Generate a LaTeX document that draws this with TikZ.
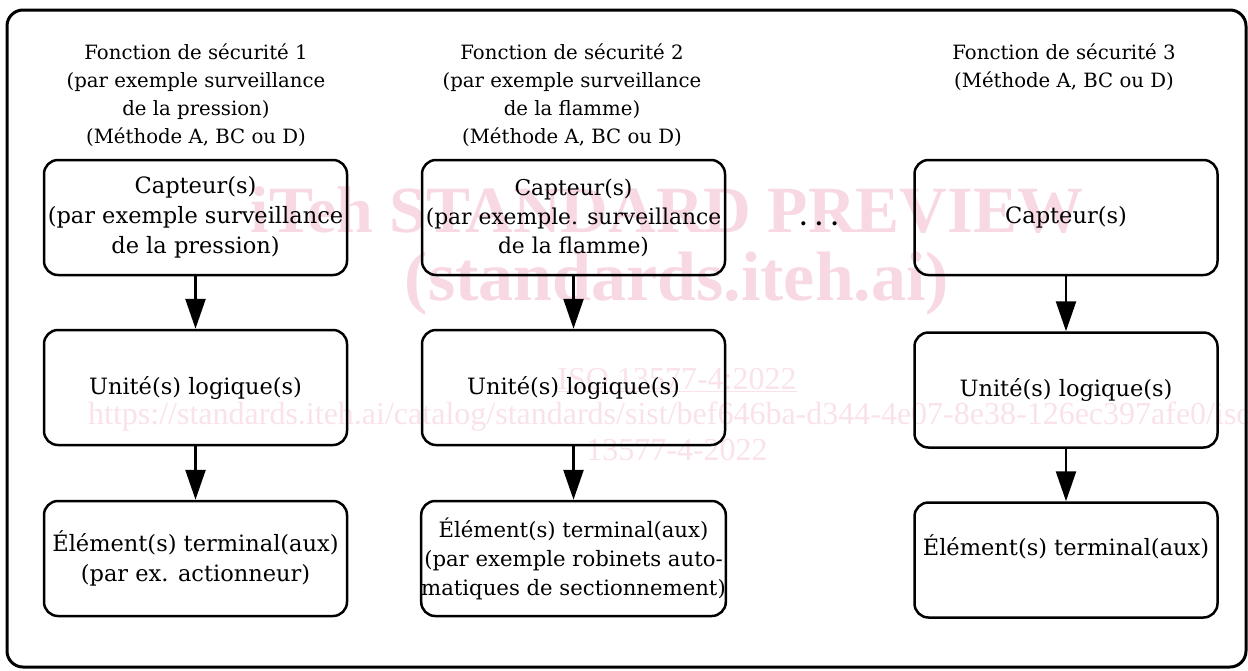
\documentclass[tikz,border=0pt]{standalone}
\usepackage{fontspec}
\setmainfont{DejaVu Serif}
\newfontfamily\wmfont{Liberation Serif}
\usetikzlibrary{arrows.meta}
\definecolor{wmpink}{RGB}{247,216,227}
\definecolor{wmlight}{RGB}{250,226,234}
\begin{document}
\begin{tikzpicture}[x=1pt,y=-1pt,
  box/.style={draw, line width=2.5pt, rounded corners=14pt, minimum width=303pt, minimum height=115pt, inner sep=0pt, align=center, font=\fontsize{22.5}{30}\selectfont},
  tight/.style={font=\fontsize{21.8}{29}\selectfont},
  tighter/.style={font=\fontsize{21.2}{29}\selectfont},
  head/.style={align=center, font=\fontsize{19.7}{28}\selectfont, inner sep=0pt},
  flow/.style={line width=2.5pt, -{Triangle[width=20pt,length=30pt]}},
  wmbig/.style={inner sep=0pt, text=wmpink, font=\wmfont\bfseries\fontsize{66}{66}\selectfont},
  wmsmall/.style={inner sep=0pt, text=wmlight, font=\wmfont\fontsize{32}{32}\selectfont}]
\useasboundingbox (0,0) rectangle (1248,670);
% watermark
\node[wmbig] (w1) at (667,210) {iTeh STANDARD PREVIEW};
\node[wmbig, font=\wmfont\bfseries\fontsize{70}{70}\selectfont] (w2) at (677,284) {(standards.iteh.ai)};
\node[wmsmall] (w3) at (677,380) {\underline{ISO 13577-4:2022}};
\node[wmsmall, anchor=west] (w4) at (88,417) {https://standards.iteh.ai/catalog/standards/sist/bef646ba-d344-4e07-8e38-126ec397afe0/iso-};
\node[wmsmall] (w5) at (677,450) {13577-4-2022};
% frame
\draw[line width=3pt, rounded corners=16pt] (7,10) rectangle (1246,667);
% headers
\node[head] (h1) at (196,95) {Fonction de sécurité 1\\(par exemple surveillance\\de la pression)\\(Méthode A, BC ou D)};
\node[head] (h2) at (572,95) {Fonction de sécurité 2\\(par exemple surveillance\\de la flamme)\\(Méthode A, BC ou D)};
\node[head] (h3) at (1064,67) {Fonction de sécurité 3\\(Méthode A, BC ou D)};
% column 1
\node[box] (c1) at (195.5,217.5) {Capteur(s)\\(par exemple surveillance\\de la pression)};
\node[box] (u1) at (195.5,387.5) {Unité(s) logique(s)};
\node[box] (e1) at (195.5,558.5) {Élément(s) terminal(aux)\\(par ex. actionneur)};
% column 2
\node[box, tight] (c2) at (573.5,217.5) {Capteur(s)\\(par exemple. surveillance\\de la flamme)};
\node[box] (u2) at (573.5,387.5) {Unité(s) logique(s)};
\node[box, tighter] (e2) at (573.5,558.5) {Élément(s) terminal(aux)\\(par exemple robinets auto-\\matiques de sectionnement)};
% dots
\node[inner sep=0pt, font=\bfseries\fontsize{22}{22}\selectfont] (dots) at (819,224) {.\hspace{8pt}.\hspace{8pt}.};
% column 3
\node[box] (c3) at (1066,217.5) {Capteur(s)};
\node[box] (u3) at (1066,390) {Unité(s) logique(s)};
\node[box] (e3) at (1066,560) {Élément(s) terminal(aux)\\~};
% connectors
\draw[flow] (c1) -- (u1);
\draw[flow] (u1) -- (e1);
\draw[flow] (c2) -- (u2);
\draw[flow] (u2) -- (e2);
\draw[flow] (c3) -- (u3);
\draw[flow] (u3) -- (e3);
\end{tikzpicture}
\end{document}
